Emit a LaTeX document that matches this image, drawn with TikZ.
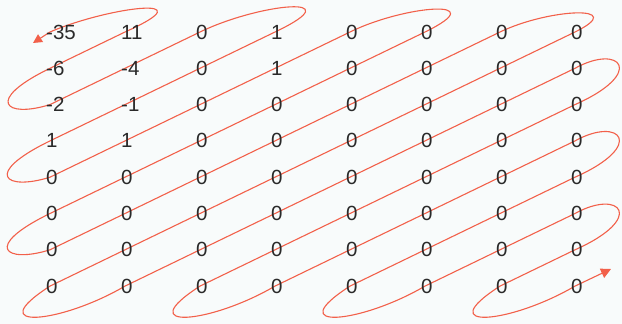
\documentclass[tikz,border=0pt]{standalone}
\usepackage{fontspec}
\setmainfont{Liberation Sans}
\usetikzlibrary{arrows.meta}
\definecolor{scanred}{HTML}{F2604A}
\definecolor{numgrey}{HTML}{2A2A2A}
\definecolor{scanpaper}{HTML}{F8FBFB}

\begin{document}
\begin{tikzpicture}[x=1pt,y=-1pt,
  num/.style={anchor=west,inner sep=0pt,font=\fontsize{20.5}{24}\selectfont,text=numgrey},
  scan/.style={draw=scanred,line width=1.1pt,{Triangle[length=9pt,width=9pt]}-{Triangle[length=10pt,width=10pt]}}
]
\fill[scanpaper] (0,0) rectangle (622,324);
\useasboundingbox (0,0) rectangle (622,324);
\foreach \r in {0,...,7}
  \foreach \c in {0,...,7}
    \coordinate (p-\r-\c) at (50+75*\c,32+36.3*\r);

\draw[scan] (33,43) -- (p-0-0)
  .. controls +(58,-25) and +(85,-38) .. (p-0-1) -- (p-1-0)
  .. controls +(-66,32) and +(-45,14) .. (p-2-0) -- (p-0-2)
  .. controls +(60,-29) and +(80,-38) .. (p-0-3) -- (p-3-0)
  .. controls +(-68,33) and +(-45,14) .. (p-4-0) -- (p-0-4)
  .. controls +(55,-27) and +(70,-34) .. (p-0-5) -- (p-5-0)
  .. controls +(-68,33) and +(-45,14) .. (p-6-0) -- (p-0-6)
  .. controls +(50,-24) and +(55,-27) .. (p-0-7) -- (p-7-0)
  .. controls +(-70,45) and +(-65,38) .. (p-7-1) -- (p-1-7)
  .. controls +(45,-25) and +(72,-32) .. (p-2-7) -- (p-7-2)
  .. controls +(-70,45) and +(-65,38) .. (p-7-3) -- (p-3-7)
  .. controls +(45,-25) and +(72,-32) .. (p-4-7) -- (p-7-4)
  .. controls +(-70,45) and +(-65,38) .. (p-7-5) -- (p-5-7)
  .. controls +(45,-25) and +(72,-32) .. (p-6-7) -- (p-7-6)
  .. controls +(-70,45) and +(-65,38) .. (p-7-7) -- (611,269);

\foreach \row [count=\r from 0] in {{-35,11,0,1,0,0,0,0},{-6,-4,0,1,0,0,0,0},{-2,-1,0,0,0,0,0,0},{1,1,0,0,0,0,0,0},{0,0,0,0,0,0,0,0},{0,0,0,0,0,0,0,0},{0,0,0,0,0,0,0,0},{0,0,0,0,0,0,0,0}}
  \foreach \v [count=\c from 0] in \row
    \node[num] (m-\r-\c) at ([xshift=-4pt]p-\r-\c) {\v};
\end{tikzpicture}
\end{document}
